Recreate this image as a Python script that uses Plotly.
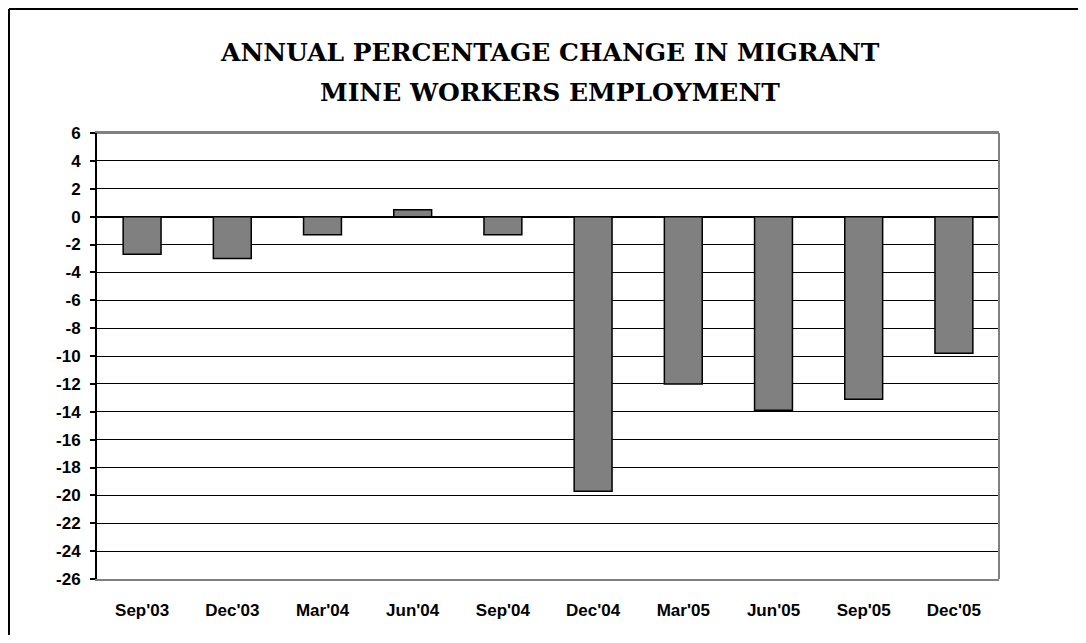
import plotly.graph_objects as go

categories = ["Sep'03", "Dec'03", "Mar'04", "Jun'04", "Sep'04",
              "Dec'04", "Mar'05", "Jun'05", "Sep'05", "Dec'05"]
values = [-2.7, -3.0, -1.3, 0.5, -1.3, -19.7, -12.0, -13.9, -13.1, -9.8]
y_ticks = list(range(-26, 7, 2))
y_ticktext = [str(v) for v in y_ticks]  # plain hyphen-minus as in the original
title_lines = ["ANNUAL PERCENTAGE CHANGE IN MIGRANT", "MINE WORKERS EMPLOYMENT"]

# page body has an 8px margin; work in screenshot pixels and shift
OFF = 8
W, H = 1070, 627
L, T = 97 - OFF, 133 - OFF
pw, ph = 902, 446
R, B = W - L - pw, H - T - ph
ymin, ymax = -26, 6

def px_x(p):
    return (p - OFF - L) / pw

def px_y(p):
    return (T + ph - (p - OFF)) / ph

fig = go.Figure()
fig.add_trace(go.Bar(
    x=list(range(len(categories))), y=values,
    marker=dict(color="#808080", line=dict(color="black", width=1.5)),
    width=0.42, showlegend=False, hoverinfo="x+y"))

tickfont = dict(family="Liberation Sans, Arial, sans-serif", size=17, color="black", weight="bold")
titlefont = dict(family="DejaVu Serif, serif", size=25, color="black")

fig.update_layout(
    width=W, height=H,
    margin=dict(l=L, r=R, t=T, b=B),
    paper_bgcolor="white", plot_bgcolor="white",
    xaxis=dict(
        range=[-0.5, len(categories) - 0.5],
        tickmode="array", tickvals=list(range(len(categories))), ticktext=categories,
        tickfont=tickfont, ticks="", ticklabelstandoff=15,
        showgrid=False, zeroline=False,
        showline=True, linecolor="#808080", linewidth=2, mirror=True),
    xaxis2=dict(
        overlaying="x", anchor="free",
        position=(0 - ymin) / (ymax - ymin),
        range=[-0.5, len(categories) - 0.5],
        tickmode="array", tickvals=[i - 0.5 for i in range(len(categories) + 1)],
        ticks="outside", ticklen=6, tickwidth=1.5, tickcolor="black",
        showticklabels=False, showgrid=False, zeroline=False, showline=False),
    yaxis=dict(
        range=[ymin, ymax], tickmode="array", tickvals=y_ticks, ticktext=y_ticktext,
        tickfont=tickfont, ticks="outside", ticklen=5, tickwidth=1.5, tickcolor="black",
        ticklabelstandoff=6,
        showgrid=True, gridcolor="black", gridwidth=1,
        zeroline=True, zerolinecolor="black", zerolinewidth=1.5,
        showline=True, linecolor="black", linewidth=2),
    bargap=0.58,
    shapes=[
        dict(type="line", xref="paper", yref="paper", x0=1, x1=1, y0=0, y1=1,
             line=dict(color="#808080", width=2), layer="above"),
        dict(type="line", xref="paper", yref="paper", x0=0, x1=1, y0=1, y1=1,
             line=dict(color="#808080", width=2), layer="above"),
        # outer chart frame: only its top and left edges fall inside the picture
        dict(type="line", xref="paper", yref="paper",
             x0=px_x(9), x1=px_x(1100), y0=px_y(9), y1=px_y(9),
             line=dict(color="black", width=2), layer="above"),
        dict(type="line", xref="paper", yref="paper",
             x0=px_x(9), x1=px_x(9), y0=px_y(9), y1=px_y(660),
             line=dict(color="black", width=2), layer="above"),
    ],
    annotations=[
        dict(text="<b>%s</b>" % title_lines[0], xref="paper", yref="paper",
             x=px_x(550), y=px_y(52), xanchor="center", yanchor="middle", showarrow=False,
             font=titlefont),
        dict(text="<b>%s</b>" % title_lines[1], xref="paper", yref="paper",
             x=px_x(550), y=px_y(92), xanchor="center", yanchor="middle", showarrow=False,
             font=titlefont),
    ],
)

fig.write_html("out.html")
